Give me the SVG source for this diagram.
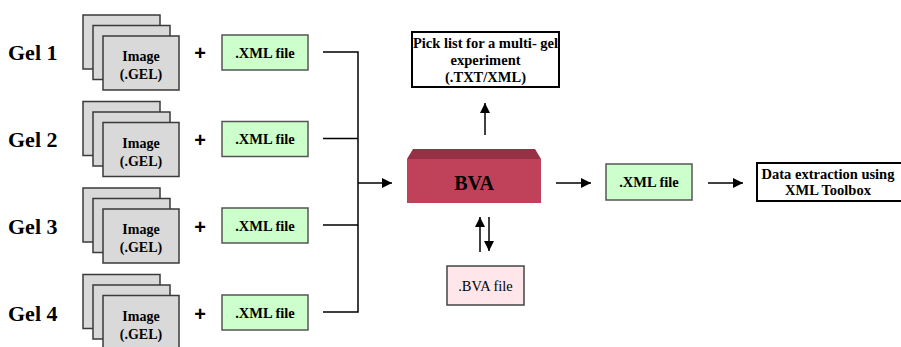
<svg xmlns="http://www.w3.org/2000/svg" width="901" height="347" viewBox="0 0 901 347">
  <defs>
    <marker id="arrow" viewBox="0 0 10 10" refX="10" refY="5" markerWidth="10" markerHeight="10" markerUnits="userSpaceOnUse" orient="auto">
      <path d="M0,0 L10,5 L0,10 z" fill="#000"/>
    </marker>
    <!-- stacked gel images -->
    <g id="stack">
      <rect class="sheet" x="83" y="0" width="77" height="54"/>
      <rect class="sheet" x="93" y="10.5" width="77" height="54"/>
      <rect class="sheet" x="103" y="21" width="76" height="54"/>
      <text class="img" x="141" y="46">Image</text>
      <text class="img" x="141" y="64">(.GEL)</text>
    </g>
  </defs>
  <style>
    text { font-family: "Liberation Serif", "Times New Roman", Tinos, "DejaVu Serif", serif; }
    .sheet { fill: #d9d9d9; stroke: #3a3a3a; stroke-width: 1.5; }
    .img { font-weight: bold; font-size: 14px; text-anchor: middle; fill: #000; }
    .gel { font-weight: bold; font-size: 22px; fill: #000; }
    .plus { font-family: "Liberation Sans", Arial, sans-serif; font-weight: bold; font-size: 20px; text-anchor: middle; fill: #000; }
    .xml { fill: #ccffcc; stroke: #555; stroke-width: 1.5; }
    .lbl { font-weight: bold; font-size: 14.5px; text-anchor: middle; fill: #000; }
    .plain { font-size: 14.5px; text-anchor: middle; fill: #000; }
    .big { font-weight: bold; font-size: 20px; text-anchor: middle; fill: #000; }
    .wbox { fill: #fff; stroke: #000; stroke-width: 2; }
    .conn { fill: none; stroke: #000; stroke-width: 1.5; }
  </style>
  <rect width="901" height="347" fill="#fff"/>

  <g id="gel1">
    <text class="gel" x="8" y="60">Gel 1</text>
    <use href="#stack" y="15"/>
    <text class="plus" x="200" y="60">+</text>
    <rect class="xml" x="222" y="35" width="86" height="35"/>
    <text class="lbl" x="265" y="57.5">.XML file</text>
  </g>
  <g id="gel2">
    <text class="gel" x="8" y="147">Gel 2</text>
    <use href="#stack" y="101.5"/>
    <text class="plus" x="200" y="147">+</text>
    <rect class="xml" x="222" y="121.5" width="86" height="35"/>
    <text class="lbl" x="265" y="144">.XML file</text>
  </g>
  <g id="gel3">
    <text class="gel" x="8" y="234">Gel 3</text>
    <use href="#stack" y="188"/>
    <text class="plus" x="200" y="234">+</text>
    <rect class="xml" x="222" y="208" width="86" height="35"/>
    <text class="lbl" x="265" y="230.5">.XML file</text>
  </g>
  <g id="gel4">
    <text class="gel" x="8" y="321">Gel 4</text>
    <use href="#stack" y="274.5"/>
    <text class="plus" x="200" y="321">+</text>
    <rect class="xml" x="222" y="295" width="86" height="35"/>
    <text class="lbl" x="265" y="317.5">.XML file</text>
  </g>

  <g id="pick-list">
    <rect class="wbox" x="412" y="32" width="147" height="55"/>
    <text class="lbl" x="485.5" y="48">Pick list for a multi- gel</text>
    <text class="lbl" x="485.5" y="65">experiment</text>
    <text class="lbl" x="485.5" y="82">(.TXT/XML)</text>
  </g>

  <g id="bva">
    <polygon points="407,159 413,149 535,149 541,159" fill="#953045"/>
    <rect x="407" y="159" width="134" height="44" fill="#c0425a"/>
    <text class="big" x="474" y="190">BVA</text>
  </g>

  <g id="bva-file">
    <rect x="447" y="266" width="77" height="39" fill="#ffe6ea" stroke="#444" stroke-width="1.5"/>
    <text class="plain" x="485.5" y="291">.BVA file</text>
  </g>

  <g id="xml-out">
    <rect class="xml" x="606" y="164" width="86" height="36"/>
    <text class="lbl" x="649" y="187">.XML file</text>
  </g>

  <g id="data-extraction">
    <rect class="wbox" x="757" y="163" width="148" height="38"/>
    <text class="lbl" x="828" y="179">Data extraction using</text>
    <text class="lbl" x="828" y="195">XML Toolbox</text>
  </g>

  <g id="connectors">
    <path class="conn" d="M323,52 H358 M323,138.5 H358 M323,225 H358 M323,312 H358 M358,51.25 V312.75"/>
    <line class="conn" x1="358" y1="183" x2="392" y2="183" marker-end="url(#arrow)"/>
    <line class="conn" x1="485" y1="135" x2="485" y2="103" marker-end="url(#arrow)"/>
    <line class="conn" x1="480" y1="252" x2="480" y2="217" marker-end="url(#arrow)"/>
    <line class="conn" x1="489" y1="217" x2="489" y2="251" marker-end="url(#arrow)"/>
    <line class="conn" x1="556" y1="183" x2="591" y2="183" marker-end="url(#arrow)"/>
    <line class="conn" x1="708" y1="183" x2="743" y2="183" marker-end="url(#arrow)"/>
  </g>
</svg>
